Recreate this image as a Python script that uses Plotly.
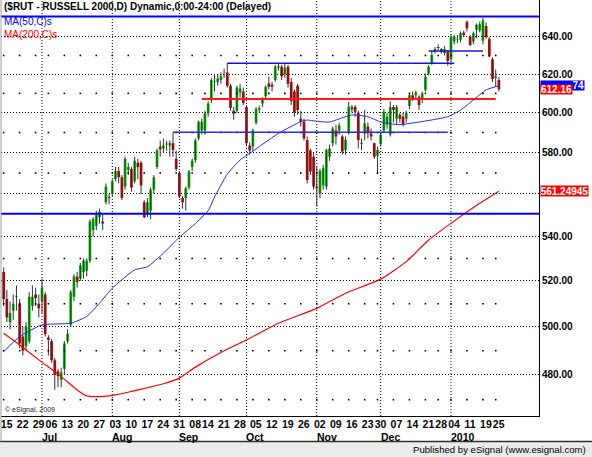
import numpy as np
import pandas as pd
import plotly.graph_objects as go

holidays = ["2009-07-03", "2009-09-07", "2009-11-26", "2009-12-25", "2010-01-01", "2010-01-18"]
dates = [d.strftime("%Y-%m-%d") for d in pd.bdate_range("2009-06-15", "2010-01-26")
         if d.strftime("%Y-%m-%d") not in holidays]

opens = [
    524, 512, 502, 507, 513, 510, 496, 492, 494, 509,
    514, 510, 511, 514, 495.5, 494, 486, 481.5, 478, 482.5,
    494, 501, 513, 522, 521, 524, 524.5, 529, 543, 545,
    549, 547, 556, 558.5, 560, 567, 571, 568, 563.5, 571.5,
    572, 566, 575, 575, 556, 551, 552, 562, 573, 583,
    582, 584, 583.5, 584.6, 577, 570, 558, 558, 563, 573,
    576.3, 587, 591, 591, 599.7, 606.5, 616, 616, 617, 620.8,
    621, 614, 601, 601, 610.5, 611, 603, 583.5, 583, 595,
    601.7, 604.8, 608.5, 615.2, 614.5, 617, 623.5, 624, 620, 624,
    616, 611, 614, 597, 595.5, 586.3, 581, 578, 563.5, 560,
    564, 563.5, 578, 584.6, 591, 591, 588, 581.3, 590, 601.5,
    603, 600, 584.8, 589.6, 593, 589.5, 584.6, 578.5, 584.2, 591,
    594, 589, 603, 597, 599, 598, 597, 603.5, 609, 609,
    608.3, 606.6, 611.8, 620.4, 626, 632, 634.5, 633.5, 631.3, 632,
    628, 637.5, 638.5, 638.5, 642.5, 648.4, 640.2, 637.5, 643.9, 643.5,
    638, 646, 639, 628, 618, 617,
]
highs = [
    526, 516, 511, 514, 518, 512, 500, 502, 515, 518,
    517, 514, 521, 515, 496.5, 495, 487, 482.5, 483, 494,
    499, 516, 523, 524, 528, 530, 530, 548, 549, 552,
    553, 550, 565, 560, 567, 573, 573, 569, 578, 575,
    573, 578, 577, 576, 557, 558, 563, 569, 582, 586,
    587, 586, 586, 590, 581, 571, 559, 563.5, 571.5, 577,
    587, 596, 597, 601, 606, 618, 620, 620, 621, 623,
    626, 615, 603, 614, 615, 613, 604, 585, 592, 603,
    603.7, 608, 614, 618.7, 616, 625, 626, 625, 626, 625,
    618, 612, 615, 601, 597, 588, 582, 580, 573, 572,
    574, 582, 584, 593, 594, 595, 589, 588, 605.6, 604,
    604, 601, 587, 601.4, 595, 592, 585, 583, 590, 602,
    600, 606, 604, 604, 600, 600, 601, 610, 611, 611.5,
    609, 611, 620.4, 625, 632.5, 634.5, 636, 634, 635, 633,
    641, 641, 641, 643, 643.5, 649, 641, 643, 647.5, 648.5,
    650.5, 648, 640, 629, 622.5, 618.5,
]
lows = [
    509, 502, 499, 503, 507, 491, 488, 490, 493, 507,
    509, 504, 506, 496, 488, 485, 474, 475, 475, 480,
    493, 500, 511, 517, 520, 521, 522, 528, 540, 543,
    546, 543, 555, 555, 559, 566, 565, 557, 562, 569,
    561, 565, 567, 560, 548.5, 549, 548, 560, 572, 578,
    580, 581, 578, 578, 571, 558, 553, 552, 562, 571,
    575, 586, 589, 589, 598, 605, 611, 614, 615, 618,
    613, 601, 596.5, 600, 608, 604, 583, 579, 581, 594,
    600, 603, 607, 612, 611, 616, 622, 617, 618, 613,
    604, 598, 599, 593, 586, 565, 569, 562, 554, 558,
    562, 562, 576, 583, 584, 589, 579, 579, 589, 600,
    598, 582, 581.3, 586, 587, 586, 577, 569.5, 583, 590,
    592, 588, 595, 594, 595, 593, 595, 602, 606, 607,
    601.4, 605, 611, 619.5, 625, 631, 633, 631, 630, 624.5,
    627, 636, 636.6, 637, 640, 643, 635, 636, 639.3, 642.5,
    636, 639, 629, 616, 613.5, 611,
]
closes = [
    512, 504, 506, 510, 513.5, 493, 490, 500, 513, 513,
    512.5, 508, 517, 497, 494.5, 486, 480, 479.5, 481, 493,
    497, 515, 522, 519.5, 527, 529, 529, 547, 548, 550,
    551.5, 546, 563.5, 558, 566, 571, 568, 558, 577, 573,
    563, 576, 573, 564, 549, 556, 562, 568, 581, 581.5,
    583.5, 584.5, 584.6, 581.3, 572, 558.7, 556, 562.7, 570.7, 576,
    586, 595.5, 595.5, 599.7, 604.8, 617, 616.2, 617.8, 619, 621,
    614, 602.5, 599.5, 613, 612.5, 605, 584.6, 581, 591, 602,
    602.5, 607.2, 613.4, 613.4, 613.5, 624, 624.2, 619, 623.5, 615,
    606, 600, 601.4, 595.5, 587, 566.7, 570.7, 563.5, 562.7, 571,
    572.3, 581.3, 582, 592, 588, 593.5, 580.5, 586.3, 603.1, 603,
    600.5, 586.3, 584.4, 594.6, 589.6, 588, 578, 581.3, 589, 600.5,
    598, 603, 601.4, 603, 597, 594, 600, 609, 607.5, 610.5,
    604, 610, 618.8, 624, 630.3, 633.5, 634, 631.8, 633.5, 627,
    640.2, 640.2, 638.7, 642, 641, 644.8, 635.7, 642, 646.5, 647,
    649, 640, 629.5, 617.5, 619, 612.16,
]

ma50_dates = ["2009-06-15", "2009-06-22", "2009-07-01", "2009-07-15", "2009-07-22", "2009-07-28",
              "2009-08-03", "2009-08-12", "2009-08-18", "2009-08-25", "2009-09-01", "2009-09-09",
              "2009-09-15", "2009-09-17", "2009-09-23", "2009-09-29", "2009-10-02", "2009-10-07",
              "2009-10-15", "2009-10-26", "2009-10-28", "2009-11-03", "2009-11-06", "2009-11-11",
              "2009-11-17", "2009-11-24", "2009-12-01", "2009-12-04", "2009-12-09", "2009-12-17",
              "2009-12-31", "2010-01-07", "2010-01-13", "2010-01-20", "2010-01-26"]
ma50_vals = [489.6, 495.9, 500.9, 501.6, 504.5, 510.2, 516.8, 524.9, 526.3, 532.4, 539.7, 546.0,
             552.0, 558.5, 569.5, 576.4, 579.6, 583.0, 589.6, 595.5, 596.3, 595.5, 595.3, 596.9,
             598.9, 598.0, 595.3, 594.4, 594.0, 595.3, 598.0, 601.4, 606.6, 611.8, 614.0]

ma200_dates = ["2009-06-15", "2009-06-22", "2009-06-30", "2009-07-10", "2009-07-17", "2009-07-22",
               "2009-07-28", "2009-08-04", "2009-08-11", "2009-08-18", "2009-08-25", "2009-09-01",
               "2009-09-09", "2009-09-22", "2009-10-01", "2009-10-15", "2009-11-02", "2009-11-13",
               "2009-12-01", "2009-12-11", "2009-12-22", "2010-01-04", "2010-01-15", "2010-01-26"]
ma200_vals = [497.3, 492.4, 486.2, 479.3, 473.9, 471.5, 471.2, 471.9, 473.3, 474.8, 476.4, 478.7,
              483.2, 490.0, 494.5, 501.6, 508.0, 514.6, 520.8, 528.6, 538.4, 546.1, 555.5, 561.25]

week_starts = ["2009-06-15", "2009-06-22", "2009-06-29", "2009-07-06", "2009-07-13", "2009-07-20",
               "2009-07-27", "2009-08-03", "2009-08-10", "2009-08-17", "2009-08-24", "2009-08-31",
               "2009-09-08", "2009-09-14", "2009-09-21", "2009-09-28", "2009-10-05", "2009-10-12",
               "2009-10-19", "2009-10-26", "2009-11-02", "2009-11-09", "2009-11-16", "2009-11-23",
               "2009-11-30", "2009-12-07", "2009-12-14", "2009-12-21", "2009-12-28", "2010-01-04",
               "2010-01-11", "2010-01-19", "2010-01-25"]
week_labels = ["15", "22", "29", "06", "13", "20", "27", "03", "10", "17", "24", "31", "08", "14",
               "21", "28", "05", "12", "19", "26", "02", "09", "16", "23", "30", "07", "14", "21",
               "28", "04", "11", "19", "25"]
month_starts = ["2009-07-01", "2009-08-03", "2009-09-01", "2009-10-01", "2009-11-02", "2009-12-01", "2010-01-04"]
month_labels = ["Jul", "Aug", "Sep", "Oct", "Nov", "Dec", "2010"]

price_ticks = [480, 500, 520, 540, 560, 580, 600, 620, 640]
minor_levels = [470, 490, 510, 530, 570, 590, 610, 630]

# drawn levels: price, first day, last day (None = across the chart)
line_levels = [651.2, 550.6, 607.1, 625.8, 632.4, 590.2]
line_from = [None, None, "2009-09-11", "2009-09-23", "2009-12-22", "2009-08-28"]
line_to = [None, None, "2010-01-25", "2010-01-05", "2010-01-19", "2009-12-31"]
line_colors = ["#0000FF", "#0000FF", "#FF1A1A", "#1414D8", "#1414D8", "#2A2AE8"]
line_widths = [2, 2, 2, 1.5, 1.5, 1.5]

last_close = closes[-1]
last_ma50_text = "74"
last_ma200_text = "561.24945"

W, H = 592, 457
ML, MR, MT, MB = 1, 53, 0, 41
pw, ph = W - ML - MR, H - MT - MB
FONT = "Liberation Sans, Arial, sans-serif"

fig = go.Figure()

dot_x = [d for d in week_starts for _ in minor_levels]
dot_y = [v for _ in week_starts for v in minor_levels]
fig.add_trace(go.Scatter(x=dot_x, y=dot_y, mode="markers", hoverinfo="skip",
                         marker=dict(size=1.6, color="black", symbol="square", line_width=0)))

fig.add_trace(go.Scatter(x=ma200_dates, y=ma200_vals, mode="lines", hoverinfo="skip",
                         line=dict(color="#FF0000", width=1.2, shape="spline", smoothing=0.5)))
fig.add_trace(go.Scatter(x=ma50_dates, y=ma50_vals, mode="lines", hoverinfo="skip",
                         line=dict(color="#2626FF", width=1, shape="spline", smoothing=0.5)))

fig.add_trace(go.Candlestick(x=dates, open=opens, high=highs, low=lows, close=closes,
                             whiskerwidth=0, hoverinfo="skip",
                             increasing=dict(fillcolor="#00C000", line=dict(color="#00C000", width=0)),
                             decreasing=dict(fillcolor="#D00000", line=dict(color="#D00000", width=0))))
fig.add_trace(go.Ohlc(x=dates, open=opens, high=highs, low=lows, close=closes, tickwidth=0,
                      hoverinfo="skip", line_width=1,
                      increasing_line_color="#303030", decreasing_line_color="#303030"))

shapes = []
for m in month_starts:
    shapes.append(dict(type="line", xref="x", yref="paper", x0=m, x1=m, y0=0, y1=1, layer="below",
                       line=dict(color="black", width=1, dash="1px,2px")))
for lv, a, b, c, w in zip(line_levels, line_from, line_to, line_colors, line_widths):
    if a is None:
        shapes.append(dict(type="line", xref="paper", yref="y", x0=0, x1=1, y0=lv, y1=lv,
                           line=dict(color=c, width=w)))
    else:
        shapes.append(dict(type="line", xref="x", yref="y", x0=a, x1=b, y0=lv, y1=lv,
                           line=dict(color=c, width=w)))

# left frame and status bar
shapes.append(dict(type="rect", xref="paper", yref="paper", x0=-ML / pw, x1=(W - ML) / pw,
                   y0=-MB / ph, y1=-25 / ph, fillcolor="#EBEBEB", line_width=0))
shapes.append(dict(type="line", xref="paper", yref="paper", x0=-ML / pw, x1=(W - ML) / pw,
                   y0=-25.5 / ph, y1=-25.5 / ph, line=dict(color="#303030", width=1.5)))
shapes.append(dict(type="line", xref="paper", yref="paper", x0=0, x1=0, y0=-25.5 / ph, y1=1,
                   line=dict(color="#A0A0A0", width=1)))

bold = dict(family=FONT, size=10.5, color="black", weight="bold")
box_font = dict(family=FONT, size=10, color="white", weight="bold")
ann = [
    dict(text="($RUT - RUSSELL 2000,D) Dynamic,0:00-24:00 (Delayed)", xref="paper", yref="paper",
         x=0, y=1, xanchor="left", yanchor="top", xshift=1, yshift=1, showarrow=False,
         font=dict(family=FONT, size=10, color="black", weight="bold")),
    dict(text="MA(50,C)s", xref="paper", yref="paper", x=0, y=1 - 21.7 / ph, xanchor="left",
         yanchor="middle", xshift=1, showarrow=False, font=dict(family=FONT, size=10, color="#0000FF")),
    dict(text="MA(200,C)s", xref="paper", yref="paper", x=0, y=1 - 34 / ph, xanchor="left",
         yanchor="middle", xshift=1, showarrow=False, font=dict(family=FONT, size=10, color="#FF0000")),
    dict(text="© eSignal, 2009", xref="paper", yref="paper", x=0, y=6 / ph, xanchor="left",
         yanchor="middle", xshift=2, showarrow=False, font=dict(family=FONT, size=7, color="#202020")),
    dict(text="Published by eSignal (www.esignal.com)", xref="paper", yref="paper", x=(W - 4 - ML) / pw,
         y=-33.5 / ph, xanchor="right", yanchor="middle", showarrow=False,
         font=dict(family=FONT, size=9.6, color="black")),
    # value boxes on the price scale
    dict(text=last_ma50_text, xref="paper", yref="y", x=1, xshift=1, xanchor="left",
         y=np.log10(ma50_vals[-1]), yanchor="middle", showarrow=False, width=43, height=9,
         align="right", valign="middle", bgcolor="#0000FF", borderpad=0, font=box_font),
    dict(text=f"{last_close:.2f}", xref="paper", yref="y", x=1, xshift=1, xanchor="left",
         y=np.log10(last_close), yanchor="middle", showarrow=False, width=31, height=9,
         valign="middle", bgcolor="#FF0000", borderpad=0, font=box_font),
    dict(text=last_ma200_text, xref="paper", yref="y", x=1, xshift=1, xanchor="left",
         y=np.log10(ma200_vals[-1]), yanchor="middle", showarrow=False, width=47, height=10,
         valign="middle", bgcolor="#FF0000", borderpad=0, font=box_font),
]
for m, lab in zip(month_starts, month_labels):
    ann.append(dict(text=lab, xref="x", yref="paper", x=dates.index(m), y=-21 / ph, xanchor="left",
                    yanchor="middle", xshift=-2, showarrow=False, font=bold))

fig.update_layout(
    width=W, height=H, margin=dict(l=ML, r=MR, t=MT, b=MB), showlegend=False,
    plot_bgcolor="white", paper_bgcolor="white", hovermode=False,
    boxgap=0.1, boxgroupgap=0.05, shapes=shapes, annotations=ann,
)
fig.update_xaxes(type="category", categoryorder="array", categoryarray=dates,
                 range=[-0.83, 167.55], tickvals=week_starts, ticktext=week_labels, tickangle=0,
                 ticks="", ticklabelshift=3, ticklabelstandoff=-2, showgrid=False, showline=True,
                 linecolor="black", linewidth=1, rangeslider_visible=False, tickfont=bold, zeroline=False)
fig.update_yaxes(type="log", side="right", range=[np.log10(463.51), np.log10(660.47)],
                 tickvals=price_ticks, ticktext=["" if v == 560 else f"{v:.2f}" for v in price_ticks],
                 ticks="", showgrid=True, gridcolor="black", griddash="1px,2px", gridwidth=1,
                 showline=True, linecolor="black", linewidth=1, zeroline=False,
                 tickfont=dict(family=FONT, size=10, color="black", weight="bold"))

fig.write_html("out.html", config={"displayModeBar": False},
               post_script="document.body.style.margin='0';")
